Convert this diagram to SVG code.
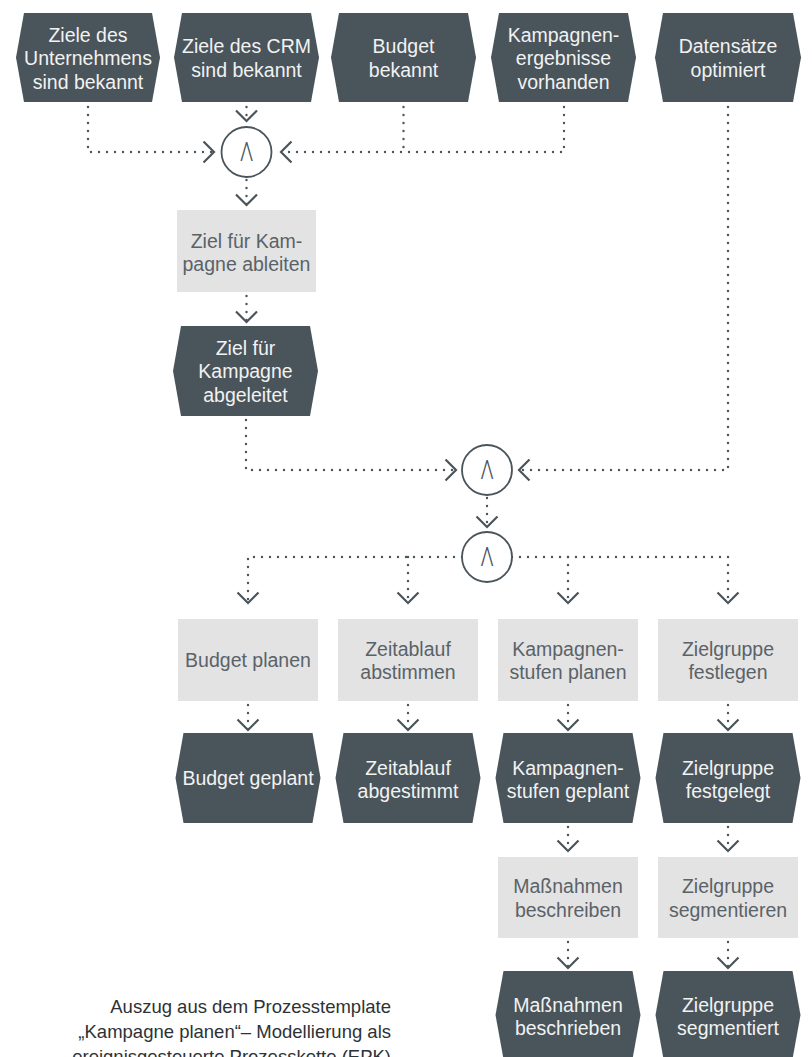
<svg xmlns="http://www.w3.org/2000/svg" width="812" height="1057" viewBox="0 0 812 1057">
<style>
.ev{fill:#4a545b}
.fn{fill:#e3e3e3}
.et{fill:#f1f2f2;font-family:"Liberation Sans",Arial,sans-serif;font-size:19.5px;text-anchor:middle}
.ft{fill:#5a6268;font-family:"Liberation Sans",Arial,sans-serif;font-size:19.5px;text-anchor:middle}
.op{fill:#ffffff;stroke:#4a545b;stroke-width:1.8}
.ot{fill:#4a545b;font-family:Roboto,"Open Sans",sans-serif;font-weight:300;font-size:26.5px;text-anchor:middle}
.cn{fill:none;stroke:#4a545b;stroke-width:2.4;stroke-dasharray:0 8;stroke-linecap:round}
.ar{marker-end:url(#arr)}
.cap{fill:#2d3236;font-family:"Liberation Sans",Arial,sans-serif;font-size:18.5px;text-anchor:end}
</style>
<defs>
<marker id="arr" markerUnits="userSpaceOnUse" markerWidth="26" markerHeight="26" viewBox="-13 -13 26 26" refX="0" refY="0" orient="auto" overflow="visible">
<path d="M-10.5,-10.5 L0,0 L-10.5,10.5" fill="none" stroke="#4a545b" stroke-width="2.2" stroke-dasharray="none"/>
</marker>
</defs>
<rect width="812" height="1057" fill="#ffffff"/>

<g id="connectors">
<path class="cn ar" d="M88,107 V152 H214"/>
<path class="cn ar" d="M246.5,107 V121"/>
<path class="cn" d="M403.5,107 V152"/>
<path class="cn ar" d="M564,107 V152 H281"/>
<path class="cn ar" d="M246.5,180 V205"/>
<path class="cn ar" d="M246.5,296 V322"/>
<path class="cn ar" d="M246,420 V470 H456"/>
<path class="cn ar" d="M728,107 V470 H519"/>
<path class="cn ar" d="M487,498 V527"/>
<path class="cn ar" d="M462,557 H248 V603"/>
<path class="cn ar" d="M512,557 H728 V603"/>
<path class="cn ar" d="M408,557 V603"/>
<path class="cn ar" d="M568,557 V603"/>
<path class="cn ar" d="M248,705 V730"/>
<path class="cn ar" d="M408,705 V730"/>
<path class="cn ar" d="M568,705 V730"/>
<path class="cn ar" d="M728,705 V730"/>
<path class="cn ar" d="M568,827 V851"/>
<path class="cn ar" d="M728,827 V851"/>
<path class="cn ar" d="M568,942 V968"/>
<path class="cn ar" d="M728,942 V968"/>
</g>

<g id="e1"><polygon class="ev" points="16,57.5 24,13 152,13 160,57.5 152,102 24,102"/>
<text class="et" x="88" y="41.5">Ziele des</text><text class="et" x="88" y="65">Unternehmens</text><text class="et" x="88" y="88.5">sind bekannt</text></g>
<g id="e2"><polygon class="ev" points="174,57.5 182,13 311,13 319,57.5 311,102 182,102"/>
<text class="et" x="246.5" y="53">Ziele des CRM</text><text class="et" x="246.5" y="76.5">sind bekannt</text></g>
<g id="e3"><polygon class="ev" points="331,57.5 339,13 468,13 476,57.5 468,102 339,102"/>
<text class="et" x="403.5" y="53">Budget</text><text class="et" x="403.5" y="76.5">bekannt</text></g>
<g id="e4"><polygon class="ev" points="491,57.5 499,13 628,13 636,57.5 628,102 499,102"/>
<text class="et" x="563.5" y="41.5">Kampagnen-</text><text class="et" x="563.5" y="65">ergebnisse</text><text class="et" x="563.5" y="88.5">vorhanden</text></g>
<g id="e5"><polygon class="ev" points="655,57.5 663,13 793,13 801,57.5 793,102 663,102"/>
<text class="et" x="728" y="53">Datensätze</text><text class="et" x="728" y="76.5">optimiert</text></g>

<g id="op1"><circle class="op" cx="246.5" cy="152" r="25"/><text class="ot" transform="translate(246.5,152) scale(0.8,1)" x="0" y="9.4">Λ</text></g>

<g id="f1"><rect class="fn" x="177" y="210" width="139" height="82"/>
<text class="ft" x="246.5" y="247.5">Ziel für Kam-</text><text class="ft" x="246.5" y="271">pagne ableiten</text></g>
<g id="e6"><polygon class="ev" points="173,371 181,326 310,326 318,371 310,416 181,416"/>
<text class="et" x="245.5" y="354.5">Ziel für</text><text class="et" x="245.5" y="378">Kampagne</text><text class="et" x="245.5" y="401.5">abgeleitet</text></g>

<g id="op2"><circle class="op" cx="487" cy="470" r="25"/><text class="ot" transform="translate(487,470) scale(0.8,1)" x="0" y="9.4">Λ</text></g>
<g id="op3"><circle class="op" cx="487" cy="557" r="25"/><text class="ot" transform="translate(487,557) scale(0.8,1)" x="0" y="9.4">Λ</text></g>

<g id="f2"><rect class="fn" x="178" y="619" width="140" height="82"/><text class="ft" x="248" y="667">Budget planen</text></g>
<g id="f3"><rect class="fn" x="338" y="619" width="140" height="82"/><text class="ft" x="408" y="655.5">Zeitablauf</text><text class="ft" x="408" y="679">abstimmen</text></g>
<g id="f4"><rect class="fn" x="498" y="619" width="140" height="82"/><text class="ft" x="568" y="655.5">Kampagnen-</text><text class="ft" x="568" y="679">stufen planen</text></g>
<g id="f5"><rect class="fn" x="658" y="619" width="140" height="82"/><text class="ft" x="728" y="655.5">Zielgruppe</text><text class="ft" x="728" y="679">festlegen</text></g>

<g id="e7"><polygon class="ev" points="175.5,778 183.5,733 312.5,733 320.5,778 312.5,823 183.5,823"/><text class="et" x="248" y="785">Budget geplant</text></g>
<g id="e8"><polygon class="ev" points="335.5,778 343.5,733 472.5,733 480.5,778 472.5,823 343.5,823"/><text class="et" x="408" y="774.5">Zeitablauf</text><text class="et" x="408" y="798">abgestimmt</text></g>
<g id="e9"><polygon class="ev" points="495.5,778 503.5,733 632.5,733 640.5,778 632.5,823 503.5,823"/><text class="et" x="568" y="774.5">Kampagnen-</text><text class="et" x="568" y="798">stufen geplant</text></g>
<g id="e10"><polygon class="ev" points="655.5,778 663.5,733 792.5,733 800.5,778 792.5,823 663.5,823"/><text class="et" x="728" y="774.5">Zielgruppe</text><text class="et" x="728" y="798">festgelegt</text></g>

<g id="f6"><rect class="fn" x="498" y="857" width="140" height="81"/><text class="ft" x="568" y="893">Maßnahmen</text><text class="ft" x="568" y="916.5">beschreiben</text></g>
<g id="f7"><rect class="fn" x="658" y="857" width="140" height="81"/><text class="ft" x="728" y="893">Zielgruppe</text><text class="ft" x="728" y="916.5">segmentieren</text></g>

<g id="e11"><polygon class="ev" points="495.5,1015 503.5,971 632.5,971 640.5,1015 632.5,1059 503.5,1059"/><text class="et" x="568" y="1011.5">Maßnahmen</text><text class="et" x="568" y="1035">beschrieben</text></g>
<g id="e12"><polygon class="ev" points="655.5,1015 663.5,971 792.5,971 800.5,1015 792.5,1059 663.5,1059"/><text class="et" x="728" y="1011.5">Zielgruppe</text><text class="et" x="728" y="1035">segmentiert</text></g>

<g id="caption">
<text class="cap" x="391" y="1013">Auszug aus dem Prozesstemplate</text>
<text class="cap" x="391" y="1038">„Kampagne planen“– Modellierung als</text>
<text class="cap" x="391" y="1063">ereignisgesteuerte Prozesskette (EPK)</text>
</g>
</svg>
